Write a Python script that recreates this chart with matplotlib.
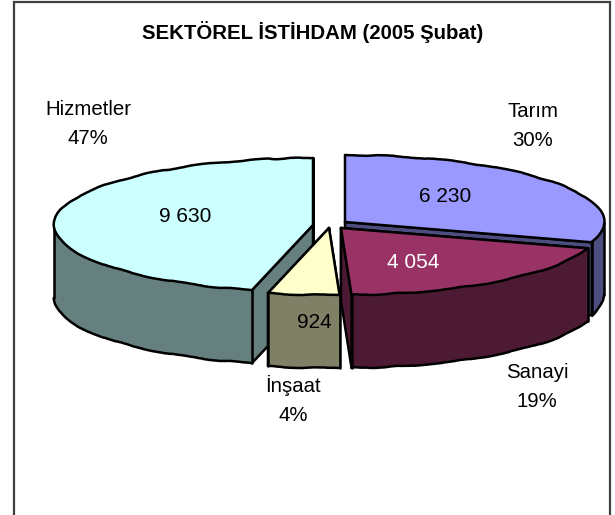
import numpy as np
import matplotlib
matplotlib.use("Agg")
import matplotlib.pyplot as plt
from matplotlib.patches import Polygon, Rectangle

plt.rcParams['font.family'] = ['Liberation Sans', 'DejaVu Sans']

# data
categories = ["Tarım", "Sanayi", "İnşaat", "Hizmetler"]
values = [6230, 4054, 924, 9630]
percent_labels = ["30%", "19%", "4%", "47%"]
title = "SEKTÖREL İSTİHDAM (2005 Şubat)"

# style
top_colors = ["#9999FF", "#993366", "#FFFFCC", "#CCFFFF"]
wall_colors = ["#4D4D80", "#4D1A33", "#808066", "#668080"]
value_colors = ["black", "white", "black", "black"]
apexes = [(345, 222), (341, 228), (329, 228), (313, 225)]
value_pos = [(445, 197), (413, 263), (314, 323), (185, 216)]
label_pos = [(533, 126), (537, 387), (293, 400), (88, 124)]
RX, RY, DEPTH = 259, 67, 73
LW = 1.8
draw_order = [3, 0, 1, 2]

fig = plt.figure(figsize=(6.15, 5.15), dpi=100)
ax = fig.add_axes([0, 0, 1, 1])
ax.set_xlim(0, 615)
ax.set_ylim(515, 0)
ax.axis("off")

ax.add_patch(Rectangle((13.5, 2), 596.5, 530, fc="white", ec="#404040", lw=1.6))

fractions = np.array(values) / np.sum(values)
edges = np.concatenate([[0], np.cumsum(fractions)]) * 360

z = [2]


def next_z():
    z[0] += 1
    return z[0]


def arc(apex, a0, a1, dy=0):
    t = np.radians(np.linspace(a0, a1, max(int(abs(a1 - a0) * 2), 2)))
    return np.column_stack([apex[0] + RX * np.sin(t),
                            apex[1] - RY * np.cos(t) + dy])


def fill(pts, fc):
    ax.add_patch(Polygon(pts, closed=True, fc=fc, ec="none", zorder=next_z()))


def straight(pts):
    pts = np.asarray(pts)
    ax.plot(pts[:, 0], pts[:, 1], color="black", lw=LW, solid_joinstyle="round",
            solid_capstyle="round", zorder=next_z())


def wavy(pts):
    pts = np.asarray(pts)
    line, = ax.plot(pts[:, 0], pts[:, 1], color="black", lw=LW,
                    solid_capstyle="round", zorder=next_z())
    line.set_sketch_params(scale=0.55, length=160, randomness=16)


for i in draw_order:
    a0, a1 = edges[i], edges[i + 1]
    apex = apexes[i]
    for ang in (a0, a1):
        rim = arc(apex, ang, ang)[0]
        quad = [apex, rim, (rim[0], rim[1] + DEPTH), (apex[0], apex[1] + DEPTH)]
        fill(quad, wall_colors[i])
        straight(quad + [apex])
    f0, f1 = max(a0, 90), min(a1, 270)
    if f1 > f0:
        upper = arc(apex, f0, f1)
        lower = arc(apex, f0, f1, DEPTH)
        fill(np.vstack([upper, lower[::-1]]), wall_colors[i])
        wavy(lower)
        straight([upper[0], lower[0]])
        straight([upper[-1], lower[-1]])
    rim = arc(apex, a0, a1)
    fill(np.vstack([[apex], rim]), top_colors[i])
    wavy(rim)
    straight([rim[0], apex, rim[-1]])

tz = next_z() + 1
for i, v in enumerate(values):
    s = f"{v:,}".replace(",", " ")
    ax.text(*value_pos[i], s, ha="center", va="center", fontsize=15,
            color=value_colors[i], zorder=tz)
    ax.text(*label_pos[i], f"{categories[i]}\n{percent_labels[i]}",
            ha="center", va="center", fontsize=14.7, linespacing=1.65,
            color="black", zorder=tz)

ax.text(313, 32, title, ha="center", va="center", fontsize=14.7,
        fontweight="bold", color="black", zorder=tz)

fig.savefig("out.png", dpi=100)
